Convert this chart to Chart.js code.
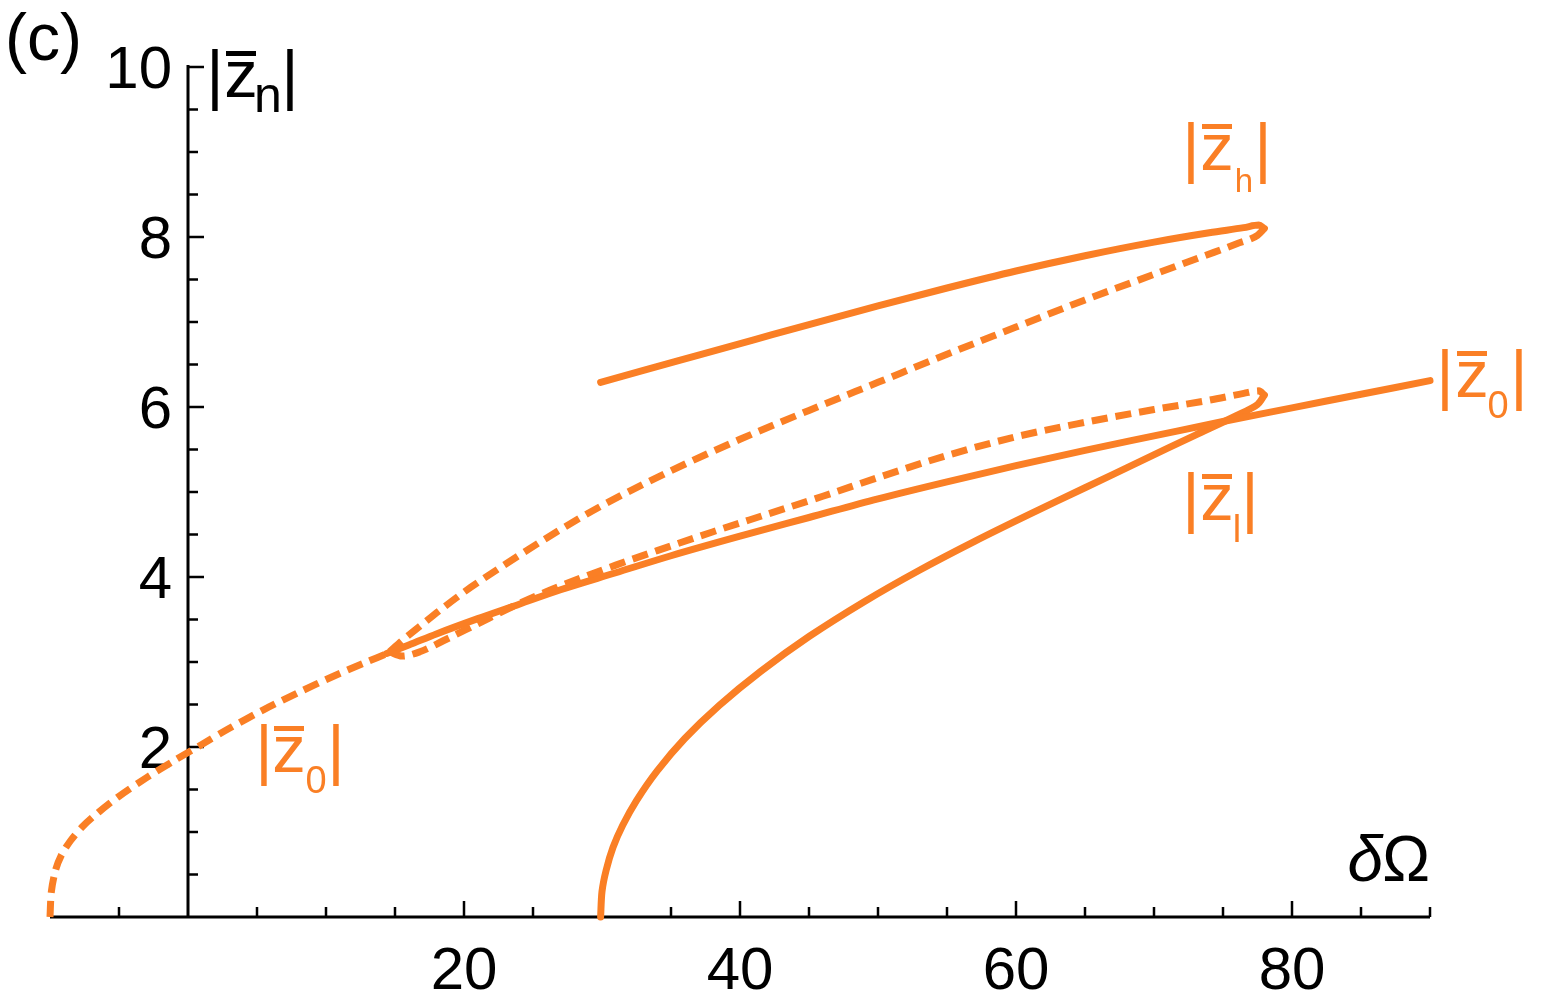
<!DOCTYPE html>
<html>
<head>
<meta charset="utf-8">
<script src="https://cdn.jsdelivr.net/npm/chart.js@4.4.1/dist/chart.umd.min.js"></script>
<style>
  html, body { margin: 0; padding: 0; background: #fff; }
  #chart { display: block; }
</style>
</head>
<body>
<canvas id="chart" width="1550" height="1007"></canvas>
<script>
// axis ranges and tick labels
const xMin = -10, xMax = 90;
const yMin = 0, yMax = 10;
const xTickLabels = [20, 40, 60, 80];
const yTickLabels = [2, 4, 6, 8, 10];

// |z0| unstable branch, left part (dashed)
const z0LeftX = [-10, -9.9, -9.6, -9.2, -8.5, -7.6, -6.5, -5, -3, -1, 1, 3, 5.5, 8, 10.5, 12.8, 14.6];
const z0LeftY = [0, 0.3, 0.55, 0.72, 0.9, 1.07, 1.23, 1.42, 1.64, 1.84, 2.03, 2.22, 2.44, 2.64, 2.83, 2.99, 3.11];

// upper unstable branch, cusp -> |zh| turning point (dashed)
const upperDashX = [14.6, 15.5, 16.8, 18.5, 20.5, 23, 26, 30, 35, 40, 45, 50, 55, 60, 65, 70, 73.5, 76, 77.5, 78.0];
const upperDashY = [3.12, 3.25, 3.42, 3.64, 3.88, 4.15, 4.46, 4.84, 5.25, 5.62, 5.96, 6.29, 6.62, 6.94, 7.26, 7.56, 7.77, 7.92, 8.02, 8.1];

// |zh| stable branch (solid)
const zhX = [29.9, 33, 37, 41, 45, 50, 55, 60, 65, 70, 74, 76.5, 77.6, 78.0];
const zhY = [6.29, 6.43, 6.61, 6.79, 6.97, 7.19, 7.4, 7.6, 7.78, 7.94, 8.05, 8.11, 8.14, 8.1];

// |z0| stable branch (solid)
const z0RightX = [14.4, 16, 18, 21, 24, 27, 31, 35, 40, 45, 50, 55, 60, 65, 70, 75, 80, 85, 90];
const z0RightY = [3.1, 3.2, 3.33, 3.51, 3.68, 3.85, 4.05, 4.25, 4.48, 4.7, 4.92, 5.12, 5.31, 5.49, 5.66, 5.83, 5.99, 6.15, 6.31];

// lower unstable loop, cusp -> |zl| turning point (dashed)
const lowerDashX = [14.6, 15.5, 16.8, 18.5, 21, 23.5, 26, 28.5, 31, 34, 38, 42, 46, 50, 55, 60, 65, 70, 74, 76.5, 77.6, 78.0];
const lowerDashY = [3.12, 3.07, 3.12, 3.25, 3.45, 3.65, 3.83, 3.99, 4.14, 4.31, 4.53, 4.74, 4.95, 5.17, 5.43, 5.65, 5.82, 5.97, 6.08, 6.16, 6.19, 6.14];

// |zl| stable branch (solid)
const zlX = [29.9, 30.0, 30.3, 30.8, 31.5, 32.5, 34, 36, 38.5, 41.5, 45, 49, 53, 57, 61, 65, 69, 73, 76, 77.5, 78.0];
const zlY = [0, 0.3, 0.55, 0.82, 1.08, 1.37, 1.72, 2.1, 2.49, 2.89, 3.3, 3.71, 4.08, 4.42, 4.74, 5.05, 5.36, 5.67, 5.9, 6.03, 6.14];

const ORANGE = "#fa7f25";
const FONT = '"Liberation Sans", Arial, sans-serif';

function toPoints(xs, ys) {
  return xs.map((x, i) => ({ x: x, y: ys[i] }));
}

// steep branches (vertical start) use bezier tension, the rest monotone splines
function branch(xs, ys, dashed, steep) {
  return {
    data: toPoints(xs, ys),
    showLine: true,
    borderColor: ORANGE,
    borderWidth: 7,
    borderDash: dashed ? [16, 8] : [],
    borderCapStyle: dashed ? "butt" : "round",
    borderJoinStyle: "round",
    cubicInterpolationMode: steep ? "default" : "monotone",
    tension: steep ? 0.3 : 0,
    pointRadius: 0,
    fill: false,
    clip: false,
  };
}

// |z̄x| style label: bar, z with overline, subscript, bar
function modLabel(ctx, o) {
  ctx.fillStyle = o.color;
  ctx.textAlign = "center";
  ctx.textBaseline = "alphabetic";
  ctx.font = `67px ${FONT}`;
  ctx.fillText("|", o.bar1, o.y);
  ctx.fillText("z", o.z, o.y);
  ctx.fillText("|", o.bar2, o.y);
  ctx.fillRect(o.z - 15, o.y - 46, 30, 5);
  ctx.font = `${o.subSize}px ${FONT}`;
  ctx.fillText(o.sub, o.subX, o.y + o.subDy);
}

const axesPlugin = {
  id: "axes",
  beforeDatasetsDraw(chart) {
    const { ctx, scales: { x, y } } = chart;
    const x0 = x.getPixelForValue(0);
    const y0 = y.getPixelForValue(0);
    ctx.save();
    ctx.strokeStyle = "#000";
    ctx.lineWidth = 3;
    ctx.beginPath();
    ctx.moveTo(x.getPixelForValue(xMin), y0);
    ctx.lineTo(x.getPixelForValue(xMax), y0);
    ctx.moveTo(x0, y0);
    ctx.lineTo(x0, y.getPixelForValue(yMax) - 2);
    ctx.stroke();

    ctx.lineWidth = 2.5;
    ctx.beginPath();
    for (let v = -5; v <= xMax; v += 5) {
      if (v === 0) continue;
      const px = x.getPixelForValue(v);
      const len = xTickLabels.includes(v) ? 16 : 10;
      ctx.moveTo(px, y0);
      ctx.lineTo(px, y0 - len);
    }
    for (let v = 0.5; v <= yMax; v += 0.5) {
      const py = y.getPixelForValue(v);
      const len = yTickLabels.includes(v) ? 16 : 10;
      ctx.moveTo(x0, py);
      ctx.lineTo(x0 + len, py);
    }
    ctx.stroke();

    ctx.fillStyle = "#000";
    ctx.font = `60px ${FONT}`;
    ctx.textBaseline = "alphabetic";
    ctx.textAlign = "center";
    xTickLabels.forEach(v => ctx.fillText(String(v), x.getPixelForValue(v), y0 + 72));
    ctx.textAlign = "right";
    yTickLabels.forEach(v => ctx.fillText(String(v), x0 - 16, y.getPixelForValue(v) + 21));

    // panel tag
    ctx.textAlign = "left";
    ctx.font = `66px ${FONT}`;
    ctx.fillText("(c)", 5, 60);

    // x axis title
    ctx.textAlign = "right";
    ctx.font = `64px ${FONT}`;
    const wO = ctx.measureText("\u03A9").width;
    ctx.fillText("\u03A9", 1430, 881);
    ctx.font = `italic 64px ${FONT}`;
    ctx.fillText("\u03B4", 1430 - wO + 1, 881);

    // y axis title
    modLabel(ctx, { color: "#000", bar1: 215, z: 241, bar2: 290, y: 97, sub: "n", subX: 268, subDy: 15, subSize: 50 });

    // branch labels
    modLabel(ctx, { color: ORANGE, bar1: 1191, z: 1217, bar2: 1263, y: 170, sub: "h", subX: 1244, subDy: 22, subSize: 33 });
    modLabel(ctx, { color: ORANGE, bar1: 1445, z: 1472, bar2: 1519, y: 397, sub: "0", subX: 1498, subDy: 21, subSize: 38 });
    modLabel(ctx, { color: ORANGE, bar1: 1191, z: 1217, bar2: 1250, y: 520, sub: "l", subX: 1237, subDy: 22, subSize: 38 });
    modLabel(ctx, { color: ORANGE, bar1: 264, z: 289, bar2: 336, y: 772, sub: "0", subX: 316, subDy: 21, subSize: 38 });
    ctx.restore();
  }
};

new Chart(document.getElementById("chart").getContext("2d"), {
  type: "scatter",
  data: {
    datasets: [
      branch(z0LeftX, z0LeftY, true, true),
      branch(upperDashX, upperDashY, true, false),
      branch(lowerDashX, lowerDashY, true, false),
      branch(zhX, zhY, false, false),
      branch(z0RightX, z0RightY, false, false),
      branch(zlX, zlY, false, true),
    ],
  },
  options: {
    responsive: false,
    animation: false,
    devicePixelRatio: 1,
    layout: { padding: { left: 50, right: 120, top: 67, bottom: 90 } },
    scales: {
      x: { type: "linear", min: xMin, max: xMax, display: false },
      y: { type: "linear", min: yMin, max: yMax, display: false },
    },
    plugins: { legend: { display: false }, tooltip: { enabled: false } },
  },
  plugins: [axesPlugin],
});
</script>
</body>
</html>
